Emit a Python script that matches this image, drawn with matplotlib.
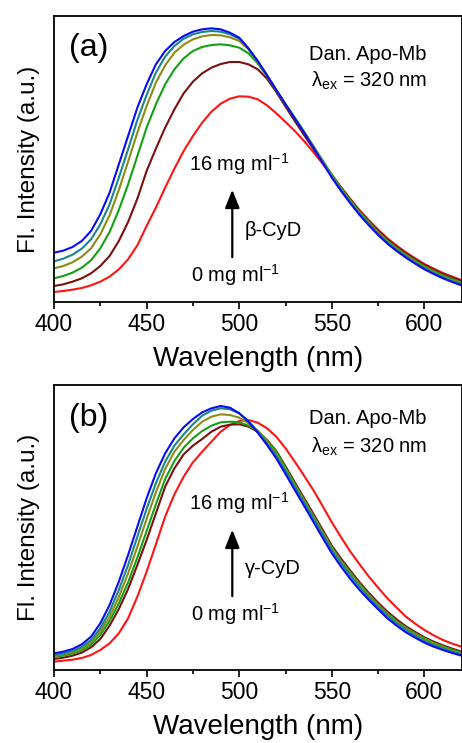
import matplotlib
matplotlib.use("Agg")
import matplotlib.pyplot as plt
from matplotlib.patches import FancyArrowPatch
from matplotlib.ticker import MultipleLocator

plt.rcParams['font.family'] = ['Liberation Sans', 'DejaVu Sans']
plt.rcParams['mathtext.fontset'] = 'custom'
plt.rcParams['mathtext.rm'] = 'Liberation Sans'
plt.rcParams['mathtext.it'] = 'Liberation Sans:italic'
plt.rcParams['mathtext.bf'] = 'Liberation Sans:bold'

# ---------------- data (arbitrary units) ----------------
wavelength = [400, 405, 410, 415, 420, 425, 430, 435, 440, 445, 450, 455, 460, 465, 470,
              475, 480, 485, 490, 495, 500, 505, 510, 515, 520, 525, 530, 535, 540, 545,
              550, 555, 560, 565, 570, 575, 580, 585, 590, 595, 600, 605, 610, 615, 620]

# panel (a): beta-CyD, 0 -> 16 mg/ml
a_red     = [30, 33, 37, 42, 50, 61, 76, 98, 128, 170, 228, 283, 343, 400, 453,
             498, 538, 571, 595, 610, 617, 616, 608, 590, 566, 540, 513, 483, 450, 415,
             380, 344, 309, 275, 245, 217, 191, 169, 149, 131, 114, 100, 87, 76, 66]
a_darkred = [48, 53, 61, 71, 86, 108, 138, 183, 240, 310, 393, 460, 523, 578, 626,
             661, 686, 703, 714, 720, 720, 713, 698, 670, 630, 586, 543, 501, 460, 420,
             381, 343, 307, 273, 242, 214, 188, 166, 146, 128, 111, 97, 84, 73, 63]
a_green   = [71, 78, 88, 103, 125, 161, 210, 276, 353, 438, 523, 593, 653, 698, 731,
             753, 765, 771, 773, 770, 763, 746, 716, 678, 635, 593, 553, 511, 468, 425,
             382, 342, 305, 270, 239, 210, 184, 162, 142, 124, 107, 93, 80, 69, 59]
a_olive   = [101, 108, 119, 136, 161, 203, 260, 336, 421, 508, 588, 658, 710, 748, 772,
             788, 797, 801, 800, 794, 783, 758, 720, 679, 636, 593, 552, 510, 467, 423,
             379, 339, 302, 267, 236, 207, 181, 159, 139, 121, 104, 90, 77, 66, 56]
a_teal    = [122, 130, 142, 160, 188, 233, 293, 373, 458, 546, 621, 688, 736, 768, 790,
             803, 810, 813, 811, 803, 790, 760, 722, 680, 636, 593, 551, 509, 465, 420,
             376, 336, 299, 264, 233, 204, 178, 156, 136, 118, 101, 87, 74, 63, 53]
a_blue    = [148, 154, 165, 183, 213, 263, 328, 413, 498, 583, 653, 713, 753, 780, 798,
             811, 818, 821, 818, 808, 793, 761, 723, 680, 636, 593, 550, 508, 463, 418,
             373, 333, 296, 261, 230, 201, 175, 153, 133, 115, 98, 84, 71, 60, 50]

# panel (b): gamma-CyD, 0 -> 16 mg/ml
b_red     = [25, 28, 31, 36, 45, 60, 80, 110, 155, 220, 295, 377, 460, 527, 580,
             623, 655, 685, 715, 735, 747, 750, 742, 725, 700, 665, 625, 583, 540, 492,
             443, 398, 355, 317, 280, 247, 215, 187, 160, 139, 120, 104, 90, 79, 70]
b_darkred = [33, 37, 43, 52, 68, 93, 133, 183, 243, 315, 390, 470, 550, 605, 647,
             673, 693, 715, 730, 736, 737, 730, 715, 690, 657, 611, 563, 516, 469, 421,
             373, 334, 298, 263, 231, 202, 175, 152, 131, 114, 98, 85, 74, 64, 55]
b_green   = [39, 43, 49, 59, 76, 105, 147, 200, 263, 337, 417, 497, 573, 627, 667,
             695, 717, 733, 743, 745, 743, 733, 717, 689, 655, 607, 558, 511, 463, 415,
             368, 328, 293, 258, 226, 197, 170, 147, 127, 110, 95, 82, 71, 61, 52]
b_olive   = [42, 46, 53, 64, 83, 115, 160, 219, 290, 370, 453, 533, 603, 655, 690,
             720, 745, 760, 767, 765, 757, 740, 718, 685, 648, 602, 555, 508, 460, 412,
             365, 325, 288, 254, 223, 194, 167, 144, 124, 107, 92, 79, 68, 58, 50]
b_teal    = [45, 49, 57, 69, 90, 125, 175, 240, 315, 400, 483, 560, 625, 673, 707,
             737, 763, 778, 785, 782, 770, 747, 715, 680, 643, 597, 550, 503, 455, 407,
             360, 320, 283, 249, 218, 189, 163, 140, 120, 103, 88, 75, 65, 55, 47]
b_blue    = [50, 55, 63, 77, 100, 140, 195, 265, 345, 430, 515, 590, 650, 695, 728,
             753, 773, 785, 792, 787, 770, 745, 712, 675, 635, 588, 540, 493, 445, 397,
             350, 310, 273, 240, 210, 182, 155, 133, 113, 97, 82, 70, 60, 51, 43]

xticks = [400, 450, 500, 550, 600]
panel_labels = ["(a)", "(b)"]
cyd_labels = ["\u03b2-CyD", "\u03b3-CyD"]

colors = ['#FF1414', '#7A1010', '#14A014', '#8C8C14', '#17878C', '#0A0AF5']

# ---------------- figure ----------------
W, H = 462, 743
fig = plt.figure(figsize=(W / 100, H / 100), dpi=100)

def px_axes(left, top, right, bottom):
    return fig.add_axes([left / W, 1 - bottom / H, (right - left) / W, (bottom - top) / H])

ax_a = px_axes(54, 16, 461.5, 302)
ax_b = px_axes(54, 385, 461.5, 670)

panels = [
    (ax_a, [a_red, a_darkred, a_green, a_olive, a_teal, a_blue], 858),
    (ax_b, [b_red, b_darkred, b_green, b_olive, b_teal, b_blue], 855),
]

for ax, series, ytop in panels:
    for s, c in zip(series, colors):
        ax.plot(wavelength, s, color=c, lw=1.5, solid_joinstyle='round')
    ax.set_xlim(400, 620)
    ax.set_ylim(0, ytop)
    ax.set_yticks([])
    ax.set_xticks(xticks)
    ax.xaxis.set_minor_locator(MultipleLocator(25))
    ax.tick_params(axis='x', which='major', direction='out', length=5, width=1.2,
                   labelsize=16.5, pad=3)
    ax.tick_params(axis='x', which='minor', direction='out', length=3, width=1.2)
    for sp in ax.spines.values():
        sp.set_linewidth(1.3)
    ax.set_xlabel("Wavelength (nm)", fontsize=20, labelpad=7)
    ax.set_ylabel("Fl. Intensity (a.u.)", fontsize=17.5, labelpad=10)

def ftext(x, y, s, **kw):
    fig.text(x / W, 1 - y / H, s, **kw)

ann = [
    # label, cyd, (a) y, Dan y, lambda y, arrow tail y, arrow head y, 16 y, 0 y, cyd y
    (panel_labels[0], cyd_labels[0], 48, 54, 81, 260, 187, 164, 275, 230),
    (panel_labels[1], cyd_labels[1], 418, 419, 447, 599, 527, 503, 614, 568),
]
for plab, cyd, py, dany, lamy, ay0, ay1, y16, y0, ycyd in ann:
    ftext(89, py, plab, fontsize=23, ha='center', va='center')
    ftext(368, dany, "Dan. Apo-Mb", fontsize=14.5, ha='center', va='center')
    ftext(369, lamy, "\u03bb$_{\\mathrm{ex}}$ = 320 nm", fontsize=14.5, ha='center', va='center')
    ftext(239, y16, "16 mg ml$^{\\mathrm{-1}}$", fontsize=14.5, ha='center', va='center')
    ftext(236, y0, "0 mg ml$^{\\mathrm{-1}}$", fontsize=14.5, ha='center', va='center')
    ftext(245, ycyd, cyd, fontsize=14.5, ha='left', va='center')
    fig.patches.append(FancyArrowPatch(
        (232.3 / W, 1 - ay0 / H), (232.3 / W, 1 - ay1 / H),
        transform=fig.transFigure, arrowstyle='-|>,head_length=0.55,head_width=0.22',
        mutation_scale=20, lw=1.6, color='black'))

fig.savefig("out.png", dpi=100)
